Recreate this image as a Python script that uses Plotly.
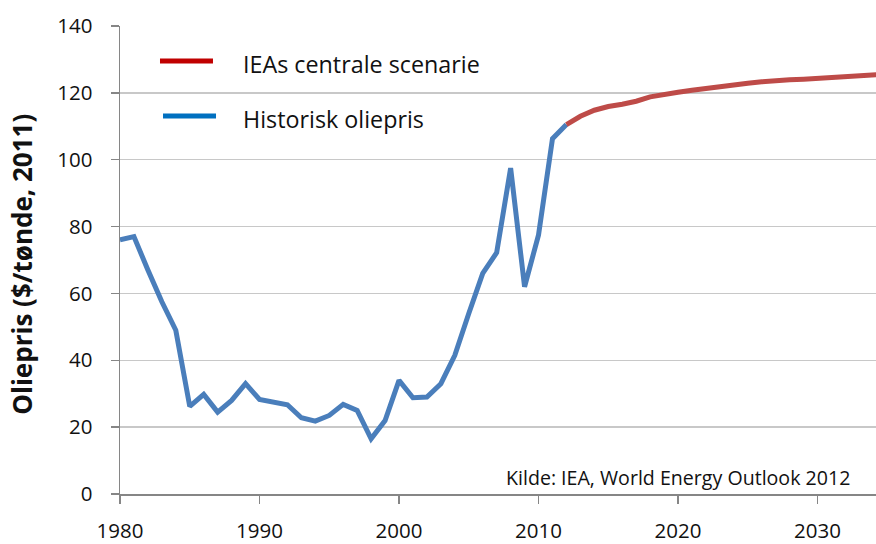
import plotly.graph_objects as go

hist_years = list(range(1980, 2013))
hist_price = [76, 77, 67, 57.5, 49, 26.2, 29.8, 24.5, 28, 33,
              28.3, 27.5, 26.7, 22.8, 21.8, 23.5, 26.8, 25, 16.5, 22,
              34, 28.8, 29, 33, 41.5, 54, 66, 72.2, 97.5, 62,
              77.5, 106.3, 110.5]

scen_years = list(range(2012, 2036))
scen_price = [110.5, 113, 114.8, 115.9, 116.6, 117.5, 118.8, 119.6, 120.2, 120.8,
              121.4, 122, 122.5, 122.9, 123.3, 123.7, 123.9, 124.1, 124.4, 124.7,
              124.9, 125.2, 125.4, 125.6]

legend_labels = ["IEAs centrale scenarie", "Historisk oliepris"]
legend_colors = ["#C00000", "#0070C0"]
y_title = "Oliepris ($/tønde, 2011)"
source = "Kilde: IEA, World Energy Outlook 2012"
x_ticks = [1980, 1990, 2000, 2010, 2020, 2030]
y_ticks = [0, 20, 40, 60, 80, 100, 120, 140]

FONT = "Open Sans"

fig = go.Figure()
fig.add_trace(go.Scatter(x=hist_years, y=hist_price, mode="lines",
                         line=dict(color="#4A7EBB", width=5), showlegend=False))
fig.add_trace(go.Scatter(x=scen_years, y=scen_price, mode="lines",
                         line=dict(color="#BE4B48", width=5), showlegend=False))

fig.update_layout(
    template="none",
    width=876, height=544,
    margin=dict(l=120, r=0, t=26, b=50, autoexpand=False),
    paper_bgcolor="white", plot_bgcolor="white",
    font=dict(family=FONT, color="#111111", size=20),
    showlegend=False,
)
fig.update_xaxes(range=[1980, 2034.19], tickvals=x_ticks, showgrid=False,
                 automargin=False,
                 showline=True, linecolor="#868686", linewidth=1.5,
                 ticks="outside", ticklen=8, tickcolor="#868686", tickwidth=1.5,
                 ticklabelstandoff=10, zeroline=False,
                 tickfont=dict(family=FONT, size=20.5, color="#111111"))
fig.update_yaxes(range=[0, 140], tickvals=y_ticks, showgrid=True,
                 automargin=False,
                 gridcolor="#C8C8C8", gridwidth=1.5,
                 showline=True, linecolor="#868686", linewidth=1.5,
                 ticks="outside", ticklen=8, tickcolor="#868686", tickwidth=1.5,
                 ticklabelstandoff=14, zeroline=False,
                 tickfont=dict(family=FONT, size=20.5, color="#111111"))

# legend drawn as decoration
leg_y = [0.925, 0.8077]
leg_x0 = [0.0529, 0.0569]
for i in range(2):
    fig.add_shape(type="line", xref="paper", yref="paper",
                  x0=leg_x0[i], x1=leg_x0[i] + 0.0701, y0=leg_y[i], y1=leg_y[i],
                  line=dict(color=legend_colors[i], width=5))
    fig.add_annotation(xref="paper", yref="paper", x=0.160, y=leg_y[i] - 0.006,
                       xanchor="left", yanchor="middle", showarrow=False,
                       text=legend_labels[i], font=dict(family=FONT, size=23.3, color="#111111"))

fig.add_annotation(xref="paper", yref="paper", x=-0.1296, y=0.49,
                   xanchor="center", yanchor="middle", showarrow=False, textangle=-90,
                   text="<b>" + y_title + "</b>", font=dict(family=FONT, size=26, color="#111111"))
fig.add_annotation(xref="paper", yref="paper", x=0.968, y=0.036,
                   xanchor="right", yanchor="middle", showarrow=False,
                   text=source, font=dict(family=FONT, size=19.6, color="#111111"))

fig.write_html("out.html",
               config={"displayModeBar": False, "staticPlot": True},
               post_script="document.body.style.margin='0';document.body.style.overflow='hidden';")
